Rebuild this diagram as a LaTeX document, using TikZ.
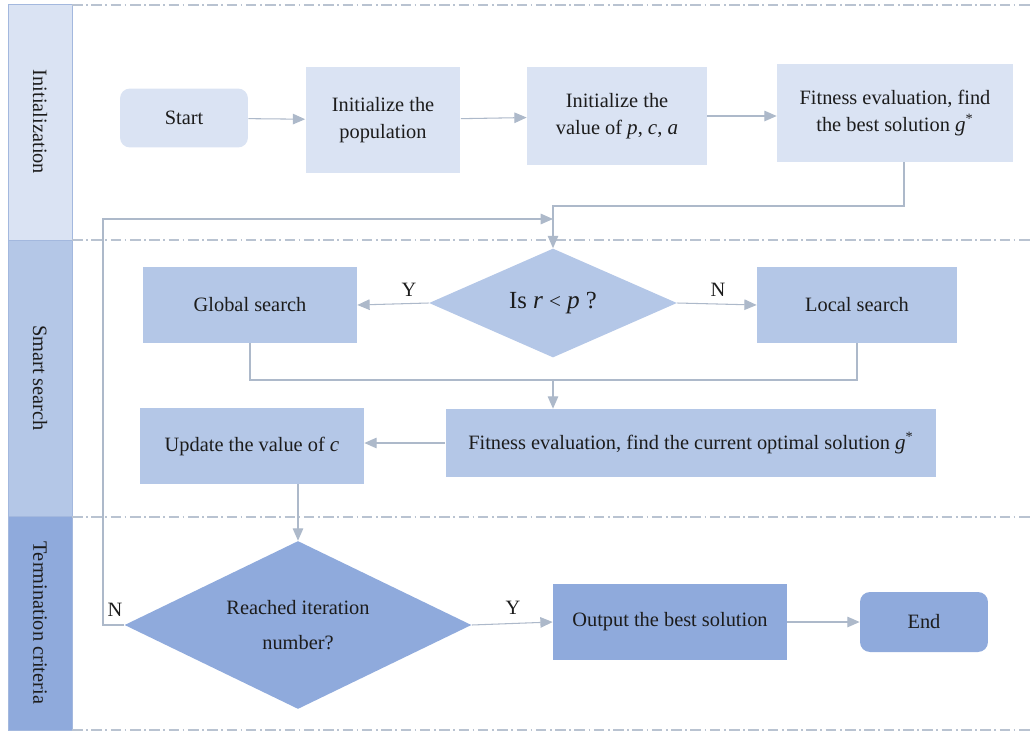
\documentclass[tikz,border=0pt]{standalone}
\usepackage{fontspec}
\setmainfont{Liberation Serif}
\usetikzlibrary{arrows.meta,shapes.geometric,calc}
\definecolor{laneA}{HTML}{DAE3F3}
\definecolor{laneB}{HTML}{B4C7E7}
\definecolor{laneC}{HTML}{8FAADC}
\definecolor{flowline}{HTML}{ADB9CA}
\definecolor{laneedge}{HTML}{A3B8DE}
\definecolor{sepline}{HTML}{B9C3D1}
\definecolor{ink}{HTML}{1C1C1C}
\tikzset{
    box/.style = {rectangle, inner sep = 0pt, align = center, text = ink},
    rbox/.style = {box, rounded corners = 0.2cm},
    decide/.style = {diamond, aspect = 2, inner sep = 0pt, align = center, text = ink},
    flow/.style = {draw = flowline, line width = 0.6pt, -{Triangle[length = 7pt, width = 6pt]}},
    plainflow/.style = {draw = flowline, line width = 0.6pt},
    sepline/.style = {draw = sepline, line width = 0.6pt, dash pattern = on 6pt off 2pt on 1pt off 2pt},
    lanelabel/.style = {rotate = -90, text = ink}
}
\begin{document}
\begin{tikzpicture}[x = 0.02cm, y = -0.02cm, font = \fontsize{11.6}{15}\selectfont]
        \useasboundingbox (0,0) rectangle (1032,734);
        % swim lanes
        \draw[laneedge, fill = laneA, line width = 0.5pt] (8,4) rectangle (72,240);
        \draw[laneedge, fill = laneB, line width = 0.5pt] (8,240) rectangle (72,516);
        \draw[laneedge, fill = laneC, line width = 0.5pt] (8,516) rectangle (72,730);
        \node[lanelabel] (lInit) at (40,122) {Initialization};
        \node[lanelabel] (lSearch) at (40,378) {Smart search};
        \node[lanelabel] (lStop) at (40,623) {Termination criteria};
        \begin{scope}[sepline]
            \draw (72,5) -- (1032,5);
            \draw (72,240) -- (1032,240);
            \draw (72,517) -- (1032,517);
            \draw (72,730) -- (1032,730);
        \end{scope}
        % initialization
        \node[rbox, fill = laneA, minimum width = 2.56cm, minimum height = 1.18cm] (start) at (184,118) {Start};
        \node[box, fill = laneA, minimum width = 3.1cm, minimum height = 2.12cm] (initPop) at (383,120) {Initialize the\\population};
        \node[box, fill = laneA, minimum width = 3.6cm, minimum height = 1.98cm] (initVal) at (617,116) {Initialize the\\value of {\large\itshape p}, {\large\itshape c}, {\large\itshape a}};
        \node[box, fill = laneA, minimum width = 4.72cm, minimum height = 1.96cm] (fitBest) at (895,113) {Fitness evaluation, find\\the best solution {\large\itshape g}\textsuperscript{*}};
        % smart search
        \node[decide, fill = laneB, minimum width = 4.96cm, minimum height = 2.18cm, font = \fontsize{14}{16}\selectfont] (isRP) at (553,303) {Is {\Large\itshape r} {\large <} {\Large\itshape p} ?};
        \node[box, fill = laneB, minimum width = 4.28cm, minimum height = 1.52cm] (glob) at (250,305) {Global search};
        \node[box, fill = laneB, minimum width = 4cm, minimum height = 1.52cm] (loc) at (857,305) {Local search};
        \node[box, fill = laneB, minimum width = 9.82cm, minimum height = 1.36cm] (fitCur) at (691,443) {Fitness evaluation, find the current optimal solution {\large\itshape g}\textsuperscript{*}};
        \node[box, fill = laneB, minimum width = 4.48cm, minimum height = 1.52cm] (upd) at (252,446) {Update the value of {\large\itshape c}};
        % termination
        \node[decide, fill = laneC, minimum width = 6.94cm, minimum height = 3.36cm] (reach) at (298,625) {Reached iteration\\[5pt]number?};
        \node[box, fill = laneC, minimum width = 4.68cm, minimum height = 1.52cm] (outBest) at (670,622) {Output the best solution};
        \node[rbox, fill = laneC, minimum width = 2.56cm, minimum height = 1.2cm] (finish) at (924,622) {End};
        % helper points
        \coordinate (join) at (553,206);
        \coordinate (loopCorner) at (103,625);
        \coordinate (loopIn) at (553,219);
        \coordinate (merge) at (553,380);
        % connectors
        \draw[flow] (start) -- (initPop);
        \draw[flow] (initPop) -- (initVal);
        \draw[flow] (initVal) -- (initVal -| fitBest.west);
        \draw[flow] ($(fitBest.south)+(9,0)$) |- (join) -- (isRP.north);
        \draw[flow] (reach.west) -- (loopCorner) |- (loopIn);
        \draw[flow] (isRP.west) -- (glob.east);
        \draw[flow] (isRP.east) -- (loc.west);
        \draw[plainflow] (glob.south) |- (merge) -| (loc.south);
        \draw[flow] (merge) -- (merge |- fitCur.north);
        \draw[flow] (fitCur.west) -- (fitCur.west -| upd.east);
        \draw[flow] (reach.north |- upd.south) -- (reach.north);
        \draw[flow] (reach.east) -- (outBest.west);
        \draw[flow] (outBest) -- (finish);
        \begin{scope}[every node/.append style = {text = ink}]
            \node (yGlob) at (409,290) {Y};
            \node (nLoc) at (718,290) {N};
            \node (nLoop) at (115,610) {N};
            \node (yOut) at (513,608) {Y};
        \end{scope}
\end{tikzpicture}
\end{document}
